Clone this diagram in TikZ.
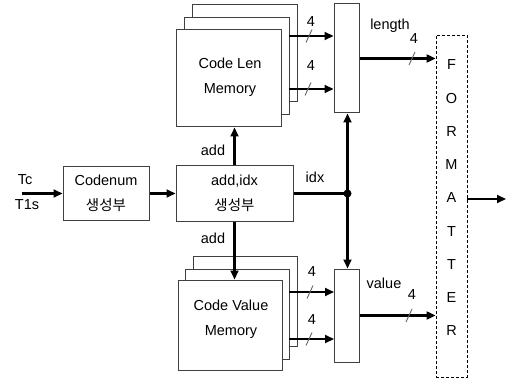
\documentclass[tikz,border=0pt]{standalone}
\usepackage{fontspec}
\setmainfont{Liberation Sans}
\newfontfamily\kr{Noto Sans CJK KR}
\usetikzlibrary{arrows.meta}
\begin{document}
\begin{tikzpicture}[x=1pt,y=-1pt,
  box/.style={draw=black!75, line width=1pt, fill=white, inner sep=0pt, align=center},
  lenbox/.style={box, minimum width=105pt, minimum height=97pt},
  valbox/.style={box, minimum width=104pt, minimum height=90pt},
  arr/.style={line width=2.1pt, -{Triangle[length=9pt,width=8pt]}},
  wire/.style={line width=2.1pt},
  slash/.style={draw=black!60, line width=0.9pt},
  lbl/.style={inner sep=0pt, font=\fontsize{14.5}{17}\selectfont},
  twoline/.style={align=center, inner sep=0pt, font=\fontsize{14.5}{25}\selectfont},
  font=\fontsize{14.5}{17}\selectfont]
\useasboundingbox (0,0) rectangle (513,379);

% Code Len memory stack
\node[lenbox] (lenback) at (244.5,53.5) {};
\node[lenbox] (lenmid) at (236.5,66.5) {};
\node[lenbox] (lenfront) at (228.5,78.5) {};
\node[twoline] (lentxt) at (230,77.5) {Code Len\\Memory};

% Code Value memory stack
\node[valbox] (valback) at (245,301) {};
\node[valbox] (valmid) at (237,314) {};
\node[valbox] (valfront) at (230,325) {};
\node[twoline] (valtxt) at (231,319) {Code Value\\Memory};

% muxes
\node[box, minimum width=25pt, minimum height=109pt] (muxL) at (346.5,58.5) {};
\node[box, minimum width=25pt, minimum height=93pt] (muxV) at (347,315.5) {};

% formatter
\node[draw=black, line width=0.9pt, dash pattern=on 3pt off 2pt, inner sep=0pt,
      minimum width=31pt, minimum height=342pt] (fmt) at (451.5,206) {};
\node[align=center, inner sep=0pt, font=\fontsize{14.5}{33.25}\selectfont] (fmttxt) at (451.5,198)
  {F\\O\\R\\M\\A\\T\\T\\E\\R};

% generator blocks
\node[box, twoline, minimum width=86pt, minimum height=54pt] (codenum) at (106,193.5)
  {Codenum\\{\kr 생성부}};
\node[box, twoline, minimum width=117pt, minimum height=55pt] (addidx) at (234.5,193.5)
  {add,idx\\{\kr 생성부}};

% input
\coordinate (in) at (22,193.5);
\draw[arr] (in) -- (codenum.west);
\node[lbl] (tc) at (25,180) {Tc};
\node[lbl] (t1s) at (27,205) {T1s};
\draw[arr] (codenum.east) -- (addidx.west);

% add arrows
\draw[arr] (addidx.north) -- (addidx.north |- lenfront.south);
\draw[arr] (addidx.south) -- (addidx.south |- valfront.north);
\node[lbl] (addup) at (213,150) {add};
\node[lbl] (adddn) at (213,238) {add};

% idx bus
\coordinate (dot) at (347.5,193.5);
\draw[wire] (addidx.east) -- (dot);
\fill (dot) circle (4pt);
\draw[arr] (dot) -- (dot |- muxL.south);
\draw[arr] (dot) -- (dot |- muxV.north);
\node[lbl] (idxl) at (315,177) {idx};

% memory -> mux
\coordinate (l1) at (289,36);
\coordinate (l2) at (289,89);
\coordinate (v1) at (289,292);
\coordinate (v2) at (289,339);
\draw[arr] (l1) -- (l1 -| muxL.west);
\draw[arr] (l2) -- (l2 -| muxL.west);
\draw[arr] (v1) -- (v1 -| muxV.west);
\draw[arr] (v2) -- (v2 -| muxV.west);

% mux -> formatter
\draw[arr] (muxL.east) -- (muxL.east -| fmt.west);
\draw[arr] (muxV.east) -- (muxV.east -| fmt.west);
\node[lbl] (lenl) at (390,26) {length};
\node[lbl] (vall) at (384,283) {value};

% output
\coordinate (out) at (506,199);
\draw[arr] (out -| fmt.east) -- (out);

% bus-width slashes and labels
\coordinate (s1) at (309,36);
\coordinate (s2) at (308,89);
\coordinate (s3) at (310,292);
\coordinate (s4) at (309,339);
\coordinate (s5) at (412,58.5);
\coordinate (s6) at (409,315.5);
\foreach \s in {s1,s2,s3,s4,s5,s6}
  \draw[slash] (\s) +(-3,6.5) -- +(3,-6.5);
\node[lbl] (w1) at (311,22) {4};
\node[lbl] (w2) at (311,66) {4};
\node[lbl] (w3) at (312,272) {4};
\node[lbl] (w4) at (312,320) {4};
\node[lbl] (w5) at (414,39) {4};
\node[lbl] (w6) at (412,295) {4};
\end{tikzpicture}
\end{document}
